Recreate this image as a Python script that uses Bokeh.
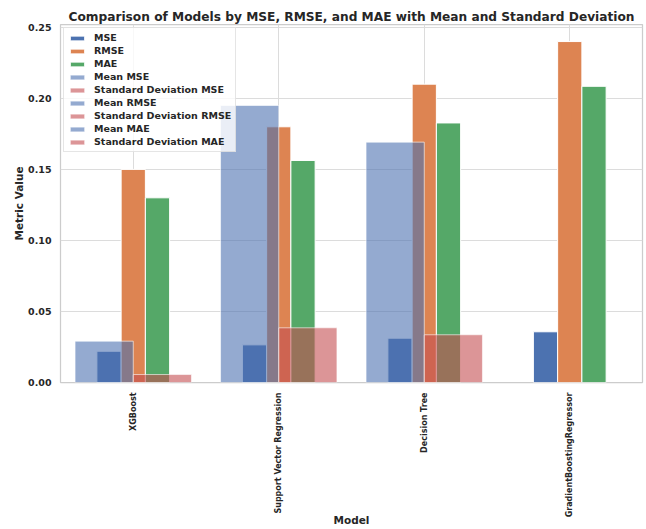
import numpy as np
from math import pi
from bokeh.plotting import figure
from bokeh.models import FixedTicker, Range1d, NumeralTickFormatter
from bokeh.embed import file_html
from bokeh.resources import INLINE

# ---- data ----
models = ["XGBoost", "Support Vector Regression", "Decision Tree", "GradientBoostingRegressor"]
mse = [0.0220, 0.0265, 0.0312, 0.0357]
rmse = [0.150, 0.180, 0.210, 0.240]
mae = [0.130, 0.1563, 0.1827, 0.2085]
metric_names = ["MSE", "RMSE", "MAE"]
metric_means = [0.0291, 0.1950, 0.1692]
metric_stds = [0.0056, 0.0385, 0.0336]
y_ticks = [0.00, 0.05, 0.10, 0.15, 0.20, 0.25]

# ---- style ----
FONT = "DejaVu Sans"
TXT = "#262626"
C_MSE, C_RMSE, C_MAE, C_STD = "#4c72b0", "#dd8452", "#55a868", "#c44e52"
bar_w = 1 / 6
stat_w = 0.4

x = np.arange(len(models), dtype=float)

p = figure(width=646, height=529, output_backend="svg", toolbar_location=None,
           x_range=Range1d(-0.5, 3.5), y_range=Range1d(0, 0.252),
           min_border_left=60, min_border_right=4, min_border_top=24, min_border_bottom=0)

p.title.text = "Comparison of Models by MSE, RMSE, and MAE with Mean and Standard Deviation"
p.title.text_font = FONT
p.title.text_font_size = "12.2px"
p.title.text_font_style = "bold"
p.title.text_color = TXT
p.title.align = "center"
p.title.standoff = 2

# main bars
for offs, vals, col, name in [(-bar_w, mse, C_MSE, "MSE"),
                              (0.0, rmse, C_RMSE, "RMSE"),
                              (bar_w, mae, C_MAE, "MAE")]:
    p.vbar(x=x + offs, top=vals, width=bar_w, fill_color=col, line_color="white",
           line_width=1, legend_label=name)

# mean / std bars (one per metric, placed at the metric's index)
for i, name in enumerate(metric_names):
    p.vbar(x=[i - stat_w / 2], top=[metric_means[i]], width=stat_w, fill_color=C_MSE,
           fill_alpha=0.6, line_color="white", line_alpha=0.6, line_width=1,
           legend_label=f"Mean {name}")
    p.vbar(x=[i + stat_w / 2], top=[metric_stds[i]], width=stat_w, fill_color=C_STD,
           fill_alpha=0.6, line_color="white", line_alpha=0.6, line_width=1,
           legend_label=f"Standard Deviation {name}")

# axes
p.xaxis.ticker = FixedTicker(ticks=list(x))
p.xaxis.major_label_overrides = {int(i): m for i, m in enumerate(models)}
p.xaxis.major_label_orientation = pi / 2
p.yaxis.ticker = FixedTicker(ticks=y_ticks)
p.yaxis.formatter = NumeralTickFormatter(format="0.00")

for ax in (p.xaxis[0], p.yaxis[0]):
    ax.axis_line_color = None
    ax.major_tick_line_color = None
    ax.minor_tick_line_color = None
    ax.major_tick_out = 0
    ax.major_tick_in = 0
    ax.major_label_text_font = FONT
    ax.major_label_text_font_style = "bold"
    ax.major_label_text_color = TXT
    ax.axis_label_text_font = FONT
    ax.axis_label_text_font_style = "bold"
    ax.axis_label_text_font_size = "10.5px"
    ax.axis_label_text_color = TXT

p.xaxis.axis_label = "Model"
p.xaxis.major_label_text_font_size = "8px"
p.xaxis.major_label_standoff = 10
p.xaxis.axis_label_standoff = -6
p.yaxis.axis_label = "Metric Value"
p.yaxis.major_label_text_font_size = "9.5px"
p.yaxis.major_label_standoff = 9
p.yaxis.axis_label_standoff = 0

p.xgrid.ticker = FixedTicker(ticks=list(x))
p.ygrid.ticker = FixedTicker(ticks=y_ticks)
for g in (p.xgrid[0], p.ygrid[0]):
    g.grid_line_color = "#dcdcdc"
    g.grid_line_width = 1

p.outline_line_color = "#cccccc"
p.outline_line_width = 1.25
p.background_fill_color = "white"
p.border_fill_color = "white"

# legend
lg = p.legend[0]
lg.location = "top_left"
lg.margin = 3
lg.padding = 4
lg.spacing = 2
lg.label_height = 11
lg.glyph_height = 6
lg.glyph_width = 18
lg.label_standoff = 8
lg.label_text_font = FONT
lg.label_text_font_style = "bold"
lg.label_text_font_size = "9.5px"
lg.label_text_color = TXT
lg.background_fill_color = "white"
lg.background_fill_alpha = 0.8
lg.border_line_color = "#cccccc"
lg.border_line_width = 1

open("out.html", "w").write(file_html(p, INLINE))
